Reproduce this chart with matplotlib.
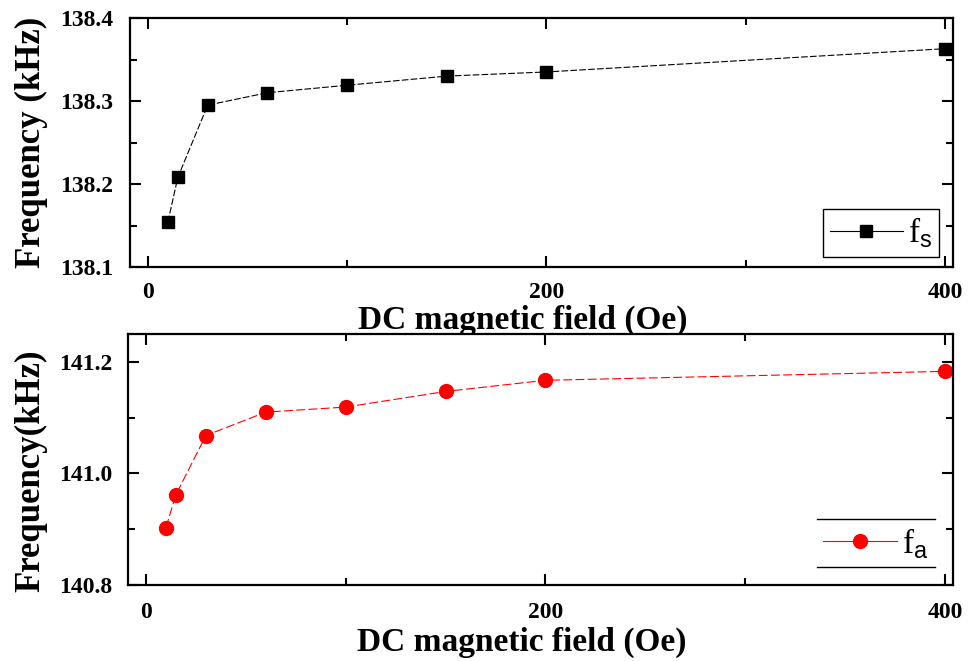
import matplotlib
matplotlib.use("Agg")
import matplotlib.pyplot as plt
from matplotlib.lines import Line2D
from matplotlib.ticker import MultipleLocator, FormatStrFormatter

# DC magnetic field (Oe)
field = [10, 15, 30, 60, 100, 150, 200, 400]
# resonance / antiresonance frequency (kHz)
fs = [138.154, 138.208, 138.295, 138.310, 138.319, 138.330, 138.335, 138.363]
fa = [140.903, 140.962, 141.068, 141.110, 141.119, 141.147, 141.167, 141.183]

xlabel = "DC magnetic field (Oe)"
ylabels = ["Frequency (kHz)", "Frequency(kHz)"]
legend_labels = [r"f$_\mathsf{s}$", r"f$_\mathsf{a}$"]

plt.rcParams["font.family"] = ["Liberation Serif", "DejaVu Serif"]
plt.rcParams["font.weight"] = "bold"
plt.rcParams["mathtext.fontset"] = "custom"
plt.rcParams["mathtext.rm"] = "Liberation Serif:weight=normal"
plt.rcParams["mathtext.sf"] = "Liberation Sans:weight=normal"

W, H = 971, 661
fig = plt.figure(figsize=(W / 100, H / 100), dpi=100)
ax1 = fig.add_axes([130 / W, 1 - 267 / H, 823 / W, 249 / H])
ax2 = fig.add_axes([128 / W, 1 - 585 / H, 825 / W, 251 / H])


def style_axes(ax, ylo, yhi, ymaj, ymin, ypad, xpad):
    ax.set_xlim(-9, 404)
    ax.set_ylim(ylo, yhi)
    ax.xaxis.set_major_locator(MultipleLocator(200))
    ax.xaxis.set_minor_locator(MultipleLocator(100))
    ax.yaxis.set_major_locator(MultipleLocator(ymaj))
    ax.yaxis.set_minor_locator(MultipleLocator(ymin))
    ax.yaxis.set_major_formatter(FormatStrFormatter("%.1f"))
    ax.tick_params(which="both", direction="in", top=True, right=True, width=1.5)
    ax.tick_params(which="major", length=8)
    ax.tick_params(which="minor", length=5)
    ax.tick_params(axis="x", pad=xpad, labelsize=17)
    ax.tick_params(axis="y", pad=ypad, labelsize=17)
    for sp in ax.spines.values():
        sp.set_linewidth(1.6)


style_axes(ax1, 138.1, 138.4, 0.1, 0.05, 12, 11)
style_axes(ax2, 140.8, 141.25, 0.2, 0.1, 11, 12)

ax1.plot(field, fs, color="black", lw=0.8, ls=(0, (6, 2)),
         marker="s", ms=9, label=legend_labels[0])
ax2.plot(field, fa, color="red", lw=0.8, ls=(0, (8, 3)),
         marker="o", ms=10, label=legend_labels[1])

for ax, yl, xy, yx, yy in [(ax1, ylabels[0], -0.15, -0.10, 0.50),
                           (ax2, ylabels[1], -0.165, -0.098, 0.454)]:
    ax.set_xlabel(xlabel, fontsize=24, fontweight="bold")
    ax.xaxis.set_label_coords(0.477, xy)
    ax.set_ylabel(yl, fontsize=25, fontweight="bold")
    ax.yaxis.set_label_coords(yx, yy)

legs = []
for ax, anchor in ((ax1, (0.983, 0.04)), (ax2, (0.978, 0.07))):
    leg = ax.legend(loc="lower right", bbox_to_anchor=anchor,
                    prop={"family": "Liberation Serif", "weight": "normal", "size": 24},
                    fancybox=False, framealpha=1, edgecolor="black",
                    handlelength=2.2, handletextpad=0.15, borderpad=0.2,
                    borderaxespad=0)
    leg.get_frame().set_linewidth(1.0)
    for h in leg.legend_handles:
        h.set_linestyle("-")
    legs.append(leg)

# bottom legend: only the top and bottom rules of the box
legs[1].get_frame().set_edgecolor("none")
fig.canvas.draw()
bb = legs[1].get_window_extent().transformed(fig.transFigure.inverted())
for yv in (bb.y0, bb.y1):
    fig.add_artist(Line2D([bb.x0, bb.x1], [yv, yv], color="black", lw=1.0))

fig.savefig("out.png", dpi=100)
